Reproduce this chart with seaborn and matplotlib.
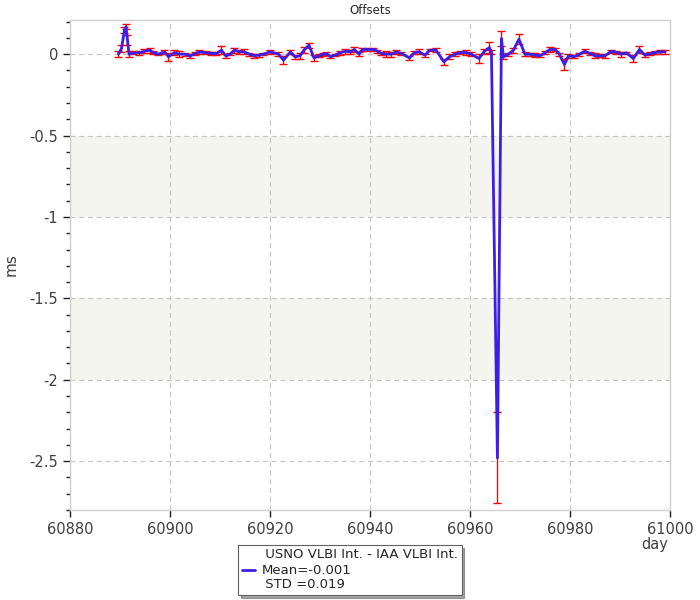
import numpy as np
import pandas as pd
import seaborn as sns
import matplotlib
matplotlib.use("Agg")
import matplotlib.pyplot as plt
from matplotlib.ticker import MultipleLocator, FuncFormatter

# MJD day of each comparison point
days = [60889.7, 60890.3, 60890.9, 60891.2, 60891.5, 60891.8, 60892.7, 60893.9, 60894.9, 60896.0,
        60896.7, 60897.7, 60898.9, 60899.7, 60900.8, 60901.9, 60903.0, 60904.0, 60905.0, 60905.9,
        60907.2, 60908.3, 60909.3, 60910.3, 60911.2, 60912.0, 60912.9, 60913.9, 60914.8, 60915.9,
        60916.8, 60917.8, 60918.7, 60920.0, 60921.7, 60922.7, 60924.1, 60925.0, 60926.0, 60926.8,
        60927.8, 60928.8, 60929.8, 60930.7, 60931.3, 60932.1, 60933.0, 60934.0, 60935.0, 60936.0,
        60936.9, 60937.8, 60938.5, 60939.5, 60940.7, 60941.5, 60942.3, 60943.3, 60944.3, 60945.3,
        60946.3, 60947.9, 60948.9, 60949.9, 60951.0, 60952.0, 60953.2, 60954.8, 60955.9, 60957.0,
        60958.1, 60959.2, 60960.3, 60961.8, 60962.9, 60963.9, 60964.3, 60965.5, 60966.3, 60966.7,
        60967.7, 60968.7, 60969.8, 60971.0, 60972.0, 60973.0, 60974.0, 60975.0, 60976.0, 60977.0,
        60977.9, 60978.9, 60979.7, 60980.8, 60981.9, 60983.0, 60984.0, 60985.0, 60986.0, 60987.0,
        60988.3, 60989.3, 60990.2, 60991.3, 60992.7, 60993.9, 60995.0, 60996.0, 60997.0, 60998.0,
        60999.0]

# offsets, ms
offsets = [0.0, 0.035, 0.148, 0.168, 0.086, 0.0, 0.008, 0.008, 0.018, 0.025,
           0.008, 0.0, 0.014, -0.016, 0.008, 0.0, 0.0, -0.012, 0.004, 0.014,
           0.008, 0.004, 0.004, 0.025, -0.012, 0.0, 0.025, 0.014, 0.014, 0.0,
           -0.01, -0.006, 0.0, 0.014, 0.0, -0.037, 0.014, -0.016, -0.01, 0.025,
           0.055, -0.023, -0.01, 0.0, 0.004, -0.016, -0.006, 0.008, 0.018, 0.014,
           0.029, 0.0, 0.029, 0.029, 0.029, 0.018, 0.004, 0.0, 0.0, 0.014,
           0.004, -0.023, 0.01, 0.014, -0.006, 0.025, 0.025, -0.047, -0.016, 0.0,
           0.01, 0.01, 0.0, -0.027, 0.018, 0.041, 0.014, -2.48, 0.096, -0.016,
           0.0, 0.025, 0.092, 0.0, 0.0, -0.006, -0.01, 0.008, 0.029, 0.029,
           0.0, -0.064, -0.01, -0.016, 0.0, 0.018, 0.004, -0.01, -0.01, -0.01,
           0.018, 0.01, 0.0, 0.008, -0.027, 0.029, -0.006, 0.004, 0.01, 0.014,
           0.014]

# 1-sigma errors, ms
errors = [0.02, 0.02, 0.02, 0.015, 0.03, 0.02, 0.01, 0.012, 0.012, 0.015,
          0.01, 0.008, 0.012, 0.025, 0.015, 0.02, 0.01, 0.01, 0.008, 0.012,
          0.01, 0.012, 0.01, 0.025, 0.01, 0.008, 0.015, 0.012, 0.015, 0.01,
          0.012, 0.01, 0.008, 0.01, 0.012, 0.025, 0.01, 0.012, 0.02, 0.02,
          0.015, 0.02, 0.01, 0.01, 0.008, 0.01, 0.008, 0.012, 0.015, 0.012,
          0.018, 0.012, 0.01, 0.008, 0.01, 0.01, 0.012, 0.018, 0.015, 0.01,
          0.008, 0.012, 0.01, 0.015, 0.01, 0.008, 0.01, 0.02, 0.015, 0.012,
          0.012, 0.015, 0.012, 0.025, 0.015, 0.035, 0.01, 0.28, 0.045, 0.015,
          0.01, 0.015, 0.03, 0.012, 0.01, 0.012, 0.008, 0.01, 0.015, 0.01,
          0.01, 0.035, 0.012, 0.008, 0.01, 0.012, 0.008, 0.015, 0.01, 0.012,
          0.01, 0.008, 0.015, 0.008, 0.02, 0.02, 0.012, 0.01, 0.008, 0.01,
          0.01]

series_label = " USNO VLBI Int. - IAA VLBI Int.\nMean=-0.001\n STD =0.019"

df = pd.DataFrame({"day": days, "offset": offsets, "err": errors})

sns.set_style("white")
plt.rcParams["font.family"] = ["DejaVu Sans"]
plt.rcParams["axes.unicode_minus"] = False

fig = plt.figure(figsize=(7, 6), dpi=100)
ax = fig.add_axes([0.1, 0.15, 0.857, 0.8167])

# shaded bands between alternate grid lines
for lo, hi in [(-1.0, -0.5), (-2.0, -1.5)]:
    ax.axhspan(lo, hi, color="#f5f5f0", zorder=0, lw=0)

ax.errorbar(df["day"], df["offset"], yerr=df["err"], fmt="none", ecolor="red",
            elinewidth=1, capsize=3, capthick=1, zorder=2)
sns.lineplot(data=df, x="day", y="offset", sort=False, color="#3c1fe6",
             linewidth=2.0, ax=ax, label=series_label, zorder=3)

ax.set_xlim(60880, 61000)
ax.set_ylim(-2.8, 0.21)
ax.xaxis.set_major_locator(MultipleLocator(20))
ax.yaxis.set_major_locator(MultipleLocator(0.5))
ax.yaxis.set_minor_locator(MultipleLocator(0.1))
ax.yaxis.set_major_formatter(FuncFormatter(lambda v, p: "%g" % round(v, 2)))
ax.xaxis.set_major_formatter(FuncFormatter(lambda v, p: "%d" % v))

ax.grid(True, which="major", linestyle=(0, (4, 3)), color="#c8c8c8", linewidth=0.9)
ax.set_axisbelow(True)
for s in ax.spines.values():
    s.set_color("#d0d0d0")
    s.set_linewidth(1)

ax.tick_params(axis="both", which="major", direction="out", length=5, width=1,
               color="#202020", labelsize=10.5, labelcolor="#404040", left=True, bottom=True)
ax.tick_params(axis="y", which="minor", direction="out", length=3, width=1,
               color="#202020", left=True)

ax.set_title("Offsets", fontsize=8.5, pad=4)
ax.set_ylabel("ms", fontsize=11, color="#404040", labelpad=8)
ax.set_xlabel("day", fontsize=10.5, color="#404040")
ax.xaxis.set_label_coords(0.975, -0.055)

leg = ax.legend(loc="center", bbox_to_anchor=(0.5, 0.05), bbox_transform=fig.transFigure,
                frameon=True, fancybox=False, shadow=True, framealpha=1,
                fontsize=9.5, handlelength=1.0, handletextpad=0.5,
                borderpad=0.25, labelspacing=0.1)
leg.get_frame().set_edgecolor("#606060")
leg.get_frame().set_linewidth(0.8)

fig.savefig("out.png", dpi=100)
